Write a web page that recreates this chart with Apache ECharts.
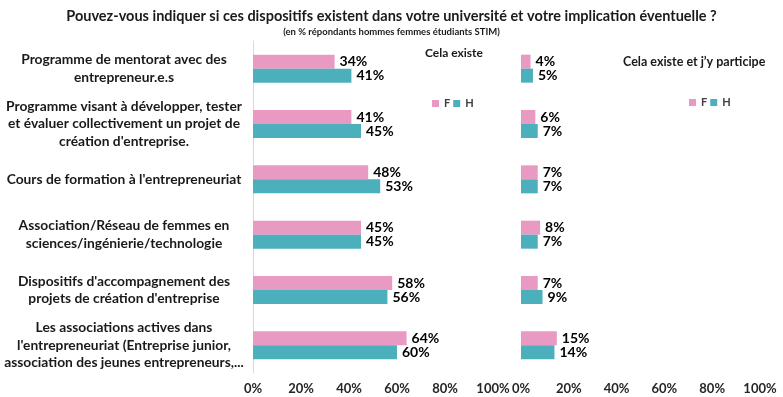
<!DOCTYPE html>
<html><head><meta charset="utf-8">
<script src="https://cdn.jsdelivr.net/npm/echarts@6/dist/echarts.min.js"></script>
<style>html,body{margin:0;padding:0;background:#fff}#c{width:783px;height:397px}</style>
</head><body><div id="c"></div>
<script>
const categories = [
  "Programme de mentorat avec des\nentrepreneur.e.s",
  "Programme visant à développer, tester\net évaluer collectivement un projet de\ncréation d'entreprise.",
  "Cours de formation à l'entrepreneuriat",
  "Association/Réseau de femmes en\nsciences/ingénierie/technologie",
  "Dispositifs d'accompagnement des\nprojets de création d'entreprise",
  "Les associations actives dans\nl'entrepreneuriat (Entreprise junior,\nassociation des jeunes entrepreneurs,..."
];
const existeF = [34, 41, 48, 45, 58, 64];
const existeH = [41, 45, 53, 45, 56, 60];
const participeF = [4, 6, 7, 8, 7, 15];
const participeH = [5, 7, 7, 7, 9, 14];
const seriesNames = ["F", "H"];
const xTicks = [0, 20, 40, 60, 80, 100];

const FONT = "Lato";
const PINK = "#E99AC3", TEAL = "#4BAFBC";
const chart = echarts.init(document.getElementById('c'), null, {renderer: 'canvas'});

function xAxis(gi) {
  return {
    gridIndex: gi, type: 'value', min: xTicks[0], max: xTicks[xTicks.length - 1], interval: xTicks[1] - xTicks[0],
    axisLine: {show: false}, axisTick: {show: false}, splitLine: {show: false},
    axisLabel: {formatter: v => v + '%', fontFamily: FONT, fontWeight: 'bold', fontSize: 13, color: '#262626', margin: 9}
  };
}
function yAxis(gi, showLabels) {
  return {
    gridIndex: gi, type: 'category', data: categories, inverse: true,
    axisLine: {show: gi === 0, lineStyle: {color: '#D9D9D9'}}, axisTick: {show: false},
    axisLabel: showLabels ? {
      show: true, align: 'center', margin: 129, fontFamily: FONT, fontWeight: 'bold',
      fontSize: 13.8, lineHeight: 17.5, color: '#1a1a1a'
    } : {show: false}
  };
}
function bar(name, data, gi, color) {
  return {
    name: name, type: 'bar', xAxisIndex: gi, yAxisIndex: gi, data: data,
    barWidth: 14, barGap: '0%', itemStyle: {color: color},
    label: {show: true, position: 'right', distance: 5, formatter: p => p.value + '%',
      fontFamily: FONT, fontWeight: 'bold', fontSize: 14, color: '#000'}
  };
}
const legendBase = {
  data: seriesNames, itemWidth: 7, itemHeight: 7, itemGap: 3, icon: 'rect',
  textStyle: {fontFamily: FONT, fontWeight: 'bold', fontSize: 11, color: '#404040'}
};
chart.setOption({
  animation: false,
  title: [
    {text: 'Pouvez-vous indiquer si ces dispositifs existent dans votre université et votre implication éventuelle ?',
     left: 'center', top: 4, textStyle: {fontFamily: FONT, fontWeight: 'bold', fontSize: 14.5, color: '#1a1a1a'}},
    {text: '(en % répondants hommes femmes étudiants STIM)', left: 'center', top: 22,
     textStyle: {fontFamily: FONT, fontWeight: 'bold', fontSize: 9.5, color: '#1a1a1a'}},
    {text: 'Cela existe', left: 420, top: 42, textStyle: {fontFamily: FONT, fontWeight: 'bold', fontSize: 12, color: '#1a1a1a'}},
    {text: "Cela existe et j’y participe", left: 618, top: 50, textStyle: {fontFamily: FONT, fontWeight: 'bold', fontSize: 12.5, color: '#1a1a1a'}}
  ],
  legend: [
    Object.assign({left: 427, top: 93}, legendBase),
    Object.assign({left: 684, top: 92}, legendBase)
  ],
  grid: [
    {left: 253, width: 240, top: 41, height: 332},
    {left: 521, width: 239, top: 41, height: 332}
  ],
  xAxis: [xAxis(0), xAxis(1)],
  yAxis: [yAxis(0, true), yAxis(1, false)],
  series: [
    bar('F', existeF, 0, PINK), bar('H', existeH, 0, TEAL),
    bar('F', participeF, 1, PINK), bar('H', participeH, 1, TEAL)
  ]
});
</script></body></html>
